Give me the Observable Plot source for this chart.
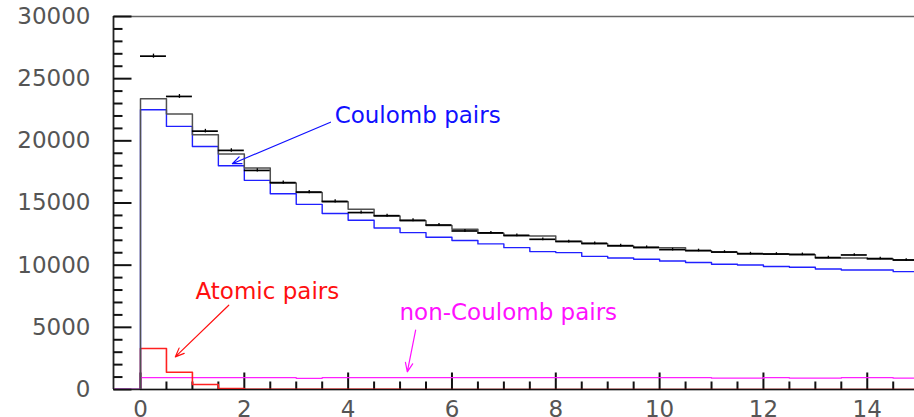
<!DOCTYPE html>
<html>
<head>
<meta charset="utf-8">
<script src="https://cdn.jsdelivr.net/npm/d3@7"></script>
<script src="https://cdn.jsdelivr.net/npm/@observablehq/plot@0.6"></script>
<style>
  html, body { margin: 0; padding: 0; background: #fff; }
  #chart svg { display: block; }
</style>
</head>
<body>
<div id="chart"></div>
<script>
// Lower edges of the 0.5-wide bins
const binLow = [0, 0.5, 1, 1.5, 2, 2.5, 3, 3.5, 4, 4.5, 5, 5.5, 6, 6.5, 7,
                7.5, 8, 8.5, 9, 9.5, 10, 10.5, 11, 11.5, 12, 12.5, 13, 13.5, 14, 14.5];
const binWidth = 0.5;
const histStart = -0.5;

// Measured pairs (points with error bars)
const measured = [26810, 23570, 20780, 19230, 17620, 16640, 15880, 15130, 14230, 13980,
                  13610, 13230, 12750, 12600, 12400, 12080, 11900, 11760, 11570, 11440,
                  11250, 11180, 11060, 10930, 10900, 10870, 10610, 10820, 10530, 10420];

// Simulated sum (Coulomb + non-Coulomb)
const simulated = [23390, 22150, 20490, 18940, 17810, 16600, 15850, 15100, 14490, 13950,
                   13580, 13200, 12880, 12570, 12370, 12350, 11920, 11730, 11540, 11410,
                   11410, 11150, 11030, 10900, 10870, 10840, 10580, 10580, 10500, 10390];

// Coulomb pairs
const coulomb = [22500, 21160, 19550, 18000, 16820, 15750, 14890, 14150, 13610, 12990,
                 12620, 12240, 11980, 11710, 11410, 11090, 11010, 10710, 10580, 10470,
                 10340, 10220, 10070, 10010, 9890, 9830, 9690, 9610, 9610, 9480];

// Atomic pairs
const atomic = [3300, 1390, 400, 80, 25, 15, 10, 10, 8, 8,
                6, 6, 5, 5, 5, 5, 5, 5, 5, 5,
                5, 5, 5, 5, 5, 5, 5, 5, 5, 5];

// Non-Coulomb pairs
const nonCoulomb = [950, 950, 950, 950, 950, 950, 900, 950, 950, 950,
                    950, 950, 950, 950, 950, 950, 950, 950, 950, 950,
                    950, 950, 910, 910, 950, 910, 910, 950, 950, 910];

// Axis ticks
const xTickLabels = [0, 2, 4, 6, 8, 10, 12, 14];
const xMinorTicks = binLow;
const yTickLabels = [0, 5000, 10000, 15000, 20000, 25000, 30000];
const yMinorTicks = [0, 1000, 2000, 3000, 4000, 5000, 6000, 7000, 8000, 9000, 10000,
                     11000, 12000, 13000, 14000, 15000, 16000, 17000, 18000, 19000, 20000,
                     21000, 22000, 23000, 24000, 25000, 26000, 27000, 28000, 29000, 30000];

// Annotations: label text, colour, label anchor (data units) and arrow ends
const noteText  = ["Coulomb pairs", "Atomic pairs", "non-Coulomb pairs"];
const noteColor = ["#1010ff", "#ff1010", "#ff10ff"];
const noteX     = [3.74, 1.06, 4.99];
const noteY     = [21400, 7260, 5570];
const arrowX1   = [3.66, 1.70, 5.30];
const arrowY1   = [21500, 6780, 4770];
const arrowX2   = [1.77, 0.67, 5.14];
const arrowY2   = [18160, 2620, 1420];

const xDomain = [-0.52, 14.91];
const yDomain = [0, 30000];

const W = 914, H = 417, ML = 113, MR = 0, MT = 16, MB = 28;
const frameW = W - ML - MR, frameH = H - MT - MB;
// data units per pixel, used to size the inward tick marks
const xPerPx = (xDomain[1] - xDomain[0]) / frameW;
const yPerPx = (yDomain[1] - yDomain[0]) / frameH;

function steps(values) {
  const last = values.length - 1;
  return [{x: histStart, y: 0}]
    .concat(values.map((v, i) => ({x: binLow[i], y: v})))
    .concat([{x: binLow[last] + binWidth, y: values[last]}]);
}

// Tick segments along both axes, as explicit line pieces
const yTickSegs = yMinorTicks.map(v => ({v, len: yTickLabels.includes(v) ? 18 : 9}));
const xTickSegs = xMinorTicks.map(v => ({v, len: xTickLabels.includes(v) ? 17 : 8}));

const idx = measured.map((_, i) => i);
const notes = noteText.map((t, i) => ({
  text: t, color: noteColor[i], x: noteX[i], y: noteY[i],
  x1: arrowX1[i], y1: arrowY1[i], x2: arrowX2[i], y2: arrowY2[i]
}));

const tickFont = {fontFamily: "DejaVu Sans", fontSize: 23, fill: "#555"};

const chart = Plot.plot({
  width: W,
  height: H,
  marginLeft: ML,
  marginRight: MR,
  marginTop: MT,
  marginBottom: MB,
  style: {fontFamily: "DejaVu Sans", background: "#fff", overflow: "hidden"},
  x: {domain: xDomain, axis: null},
  y: {domain: yDomain, axis: null},
  marks: [
    // frame
    Plot.ruleY([yDomain[1]], {stroke: "#666", strokeWidth: 1.3}),
    Plot.ruleX([xDomain[0]], {stroke: "#222", strokeWidth: 1.8}),
    Plot.ruleY([0], {stroke: "#222", strokeWidth: 1.5}),

    // y axis ticks pointing into the frame, and labels
    Plot.link(yTickSegs, {
      x1: () => xDomain[0], x2: d => xDomain[0] + d.len * xPerPx,
      y1: d => d.v, y2: d => d.v,
      stroke: "#111", strokeWidth: 2
    }),
    Plot.axisY({ticks: yTickLabels, tickSize: 0, tickPadding: 23, tickFormat: d => String(d), label: null, ...tickFont}),

    // x axis ticks pointing into the frame, and labels
    Plot.link(xTickSegs, {
      x1: d => d.v, x2: d => d.v,
      y1: () => yDomain[0], y2: d => yDomain[0] + d.len * yPerPx,
      stroke: "#111", strokeWidth: 2
    }),
    Plot.axisX({ticks: xTickLabels, tickSize: 0, tickPadding: 11, tickFormat: d => String(d), label: null, ...tickFont}),

    // histograms
    Plot.line(steps(nonCoulomb), {x: "x", y: "y", curve: "step-after", stroke: "#ff20ff", strokeWidth: 1.3, clip: true}),
    Plot.line(steps(atomic), {x: "x", y: "y", curve: "step-after", stroke: "#ff2020", strokeWidth: 1.6, clip: true}),
    Plot.ruleY([0], {x1: 0, x2: xDomain[1], stroke: "#000", strokeOpacity: 0.45, strokeWidth: 1.5}),
    Plot.line(steps(coulomb), {x: "x", y: "y", curve: "step-after", stroke: "#2020ff", strokeWidth: 1.4, clip: true}),
    Plot.line(steps(simulated), {x: "x", y: "y", curve: "step-after", stroke: "#505050", strokeWidth: 1.5, clip: true}),

    // measured points: bin-width bars with statistical error bars
    Plot.ruleY(idx, {y: i => measured[i], x1: i => binLow[i], x2: i => binLow[i] + binWidth, stroke: "#000", strokeWidth: 1.7, clip: true}),
    Plot.ruleX(idx, {x: i => binLow[i] + binWidth / 2, y1: i => measured[i] - Math.sqrt(measured[i]), y2: i => measured[i] + Math.sqrt(measured[i]), stroke: "#000", strokeWidth: 1.3, clip: true}),

    // annotations
    Plot.arrow(notes, {x1: "x1", y1: "y1", x2: "x2", y2: "y2", stroke: d => d.color, strokeWidth: 1.2, headLength: 12, headAngle: 45}),
    Plot.text(notes, {x: "x", y: "y", text: "text", fill: d => d.color, textAnchor: "start", lineAnchor: "bottom", fontSize: 23, fontFamily: "DejaVu Sans"})
  ]
});

document.getElementById("chart").appendChild(chart);
</script>
</body>
</html>
